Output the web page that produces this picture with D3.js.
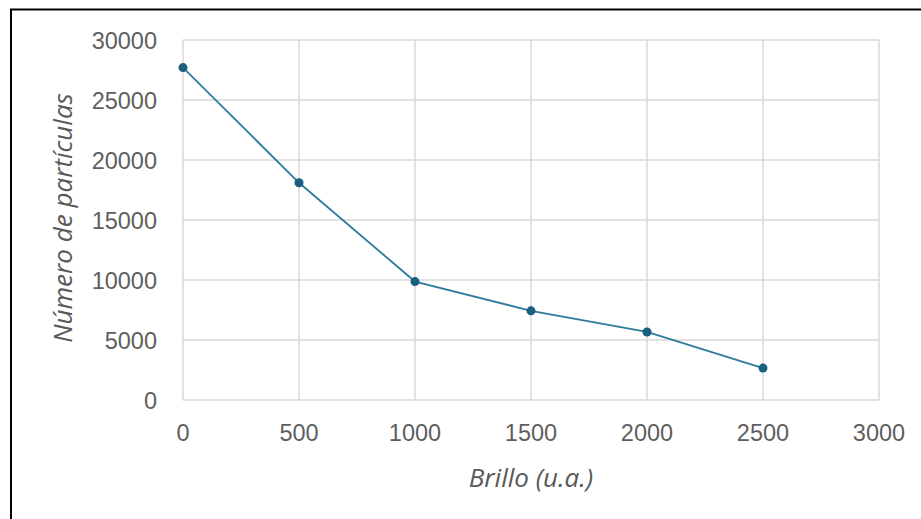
<!DOCTYPE html>
<html><head><meta charset="utf-8">
<script src="https://cdn.jsdelivr.net/npm/d3@7"></script>
<style>html,body{margin:0;padding:0;background:#fff;overflow:hidden}</style>
</head><body><svg id="c" width="921" height="519"></svg>
<script>
const brillo = [0, 500, 1000, 1500, 2000, 2500];
const particulas = [27700, 18100, 9870, 7430, 5670, 2660];
const xTicks = [0, 500, 1000, 1500, 2000, 2500, 3000];
const yTicks = [0, 5000, 10000, 15000, 20000, 25000, 30000];
const xTitle = "Brillo (u.a.)";
const yTitle = "Número de partículas";

const svg = d3.select("#c");
svg.append("rect").attr("x",11).attr("y",9.5).attr("width",930).attr("height",530)
  .attr("fill","#fff").attr("stroke","#000").attr("stroke-width",2);

const L=183, R=879, T=40, B=400;
const x = d3.scaleLinear().domain([0,3000]).range([L,R]);
const y = d3.scaleLinear().domain([0,30000]).range([B,T]);

const g = svg.append("g");
g.selectAll("line.vx").data(xTicks).join("line")
  .attr("x1",d=>x(d)).attr("x2",d=>x(d)).attr("y1",T).attr("y2",B)
  .attr("stroke","#d9d9d9").attr("stroke-width",1.5);
g.selectAll("line.hy").data(yTicks).join("line")
  .attr("y1",d=>y(d)).attr("y2",d=>y(d)).attr("x1",L).attr("x2",R)
  .attr("stroke","#d9d9d9").attr("stroke-width",1.5);

const font = "'Liberation Sans', Arial, sans-serif";
g.selectAll("text.xt").data(xTicks).join("text")
  .attr("x",d=>x(d)).attr("y",441).attr("text-anchor","middle")
  .attr("font-family",font).attr("font-size",23.5).attr("fill","#5e5e5e").text(d=>d);
g.selectAll("text.yt").data(yTicks).join("text")
  .attr("x",157).attr("y",d=>y(d)+8.5).attr("text-anchor","end")
  .attr("font-family",font).attr("font-size",23.5).attr("fill","#5e5e5e").text(d=>d);

const pts = brillo.map((b,i)=>[b,particulas[i]]);
g.append("path").datum(pts)
  .attr("d",d3.line().x(d=>x(d[0])).y(d=>y(d[1])))
  .attr("fill","none").attr("stroke","#2e7b9c").attr("stroke-width",1.8);
g.selectAll("circle").data(pts).join("circle")
  .attr("cx",d=>x(d[0])).attr("cy",d=>y(d[1])).attr("r",4.5).attr("fill","#185f80");

const tfont = "'Open Sans', 'Noto Sans', sans-serif";
svg.append("text").attr("x",(L+R)/2).attr("y",487).attr("text-anchor","middle")
  .attr("font-family",tfont).attr("font-style","italic").attr("font-size",26)
  .attr("fill","#595959").text(xTitle);
svg.append("text").attr("transform",`translate(72,218) rotate(-90)`)
  .attr("text-anchor","middle")
  .attr("font-family",tfont).attr("font-style","italic").attr("font-size",26)
  .attr("fill","#595959").text(yTitle);
</script></body></html>
